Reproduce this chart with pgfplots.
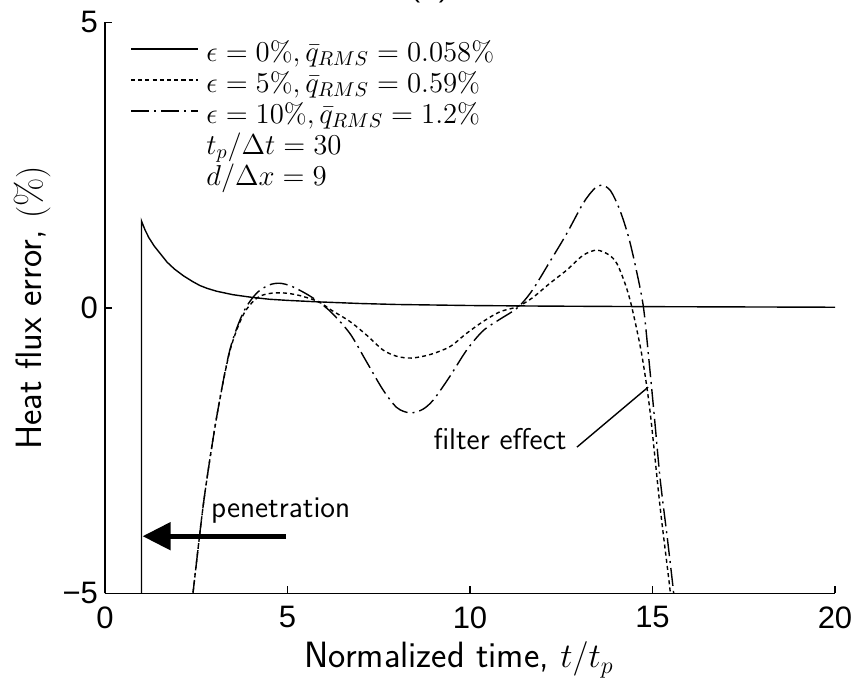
\documentclass[border=0pt]{standalone}
\usepackage{fontspec}
\usepackage{pgfplots}
\pgfplotsset{compat=1.18}
\usetikzlibrary{arrows.meta}
\newfontfamily\tickfont{Liberation Sans}

\pgfplotstableread{
t v
1 -6
1 1.52
1.1 1.36
1.2 1.23
1.35 1.08
1.5 0.96
1.7 0.80
1.9 0.68
2.15 0.56
2.4 0.46
2.6 0.39
2.8 0.34
3.06 0.29
3.5 0.23
4 0.185
4.5 0.15
5 0.13
5.8 0.105
7 0.075
8 0.058
10 0.04
12 0.03
15 0.02
20 0.01
}\epszero

\pgfplotstableread{
t v
2.3 -5.6
2.41 -5.0
2.71 -3.37
3.06 -1.91
3.42 -0.76
3.79 -0.12
4.16 0.17
4.5 0.25
4.89 0.26
5.3 0.22
5.84 0.11
6.2 -0.04
6.71 -0.24
7.17 -0.48
7.62 -0.74
8.0 -0.85
8.4 -0.88
8.9 -0.82
9.45 -0.68
9.9 -0.45
10.36 -0.24
10.82 -0.07
11.3 0.02
11.7 0.17
12.19 0.43
12.65 0.66
13.1 0.92
13.47 1.01
13.8 0.93
14.02 0.78
14.25 0.42
14.43 0.02
14.7 -0.8
14.93 -1.8
15.21 -3.5
15.48 -4.94
15.55 -5.5
}\epsfive

\pgfplotstableread{
t v
2.3 -5.6
2.41 -5.0
2.71 -3.37
3.06 -1.91
3.42 -0.74
3.79 -0.08
4.16 0.26
4.5 0.40
4.79 0.43
5.1 0.38
5.5 0.25
5.84 0.11
6.2 -0.08
6.71 -0.45
7.17 -0.95
7.62 -1.44
8.0 -1.75
8.36 -1.84
8.7 -1.78
9.0 -1.61
9.45 -1.2
9.91 -0.74
10.36 -0.4
10.82 -0.2
11.3 0.0
11.7 0.3
12.19 0.81
12.65 1.30
13.1 1.83
13.4 2.08
13.61 2.15
13.85 2.05
14.1 1.72
14.34 1.25
14.55 0.68
14.75 0.02
14.9 -0.9
15.05 -1.9
15.21 -3.0
15.4 -4.0
15.57 -4.94
15.65 -5.5
}\epsten

\begin{document}
\begin{tikzpicture}
\begin{axis}[name=ax,
  width=365pt, height=285.5pt, scale only axis,
  xmin=0, xmax=20, ymin=-5, ymax=5,
  axis x line=bottom, axis y line=left,
  axis line style={-, line width=0.7pt},
  tick align=inside, major tick length=3.5pt,
  tick style={line width=0.7pt, black},
  xtick={0,5,10,15,20}, xticklabels={0,5,10,15,20},
  ytick={-5,0,5}, yticklabels={−5,0,5},
  ticklabel style={font=\tickfont\fontsize{15.5}{17}\selectfont},
  xticklabel style={yshift=-3pt},
  xlabel={Normalized time, $t/t_p$},
  ylabel={Heat flux error, $(\%)$},
  label style={font=\sffamily\fontsize{18.3}{22}\selectfont},
  xlabel style={at={(axis description cs:0.485,-0.1305)}, anchor=base},
  ylabel style={at={(axis description cs:-0.0863,0.5)}, anchor=base},
  legend style={at={(0,1)}, anchor=north west, xshift=12.5pt, yshift=-8.85pt,
    draw=none, fill=none, inner sep=0pt, row sep=0pt, column sep=4pt,
    font=\fontsize{14}{15}\selectfont,
    nodes={inner sep=0pt, text height=10.5pt, text depth=5pt}},
  legend cell align=left,
  legend image code/.code={\draw[#1] (0pt,3.5pt) -- (33.3pt,3.5pt);},
  clip=true,
]
\addplot[black, line width=0.7pt] table[x=t,y=v] {\epszero};
\addlegendentry{$\epsilon=0\%, \bar{q}_{RMS}=0.058\%$}
\addplot[black, line width=0.7pt, smooth, dash pattern=on 2pt off 1.6pt] table[x=t,y=v] {\epsfive};
\addlegendentry{$\epsilon=5\%, \bar{q}_{RMS}=0.59\%$}
\addplot[black, line width=0.7pt, smooth, dash pattern=on 9pt off 2.5pt on 1pt off 2.5pt] table[x=t,y=v] {\epsten};
\addlegendentry{$\epsilon=10\%, \bar{q}_{RMS}=1.2\%$}
\addlegendimage{empty legend}
\addlegendentry{$t_p/\Delta t=30$}
\addlegendimage{empty legend}
\addlegendentry{$d/\Delta x=9$}

\draw[line width=2.5pt, -{Triangle[length=14pt,width=13.5pt]}] (axis cs:4.96,-4.0) -- (axis cs:1.03,-4.0);
\node[anchor=base west, inner sep=0pt, font=\sffamily\fontsize{15}{18}\selectfont] at (axis cs:2.90,-3.68) {penetration};
\node[anchor=base west, inner sep=0pt, font=\sffamily\fontsize{15}{18}\selectfont] at (axis cs:8.99,-2.49) {filter effect};
\draw[line width=0.7pt] (axis cs:12.93,-2.44) -- (axis cs:14.88,-1.39);
\end{axis}
\node[anchor=south, inner sep=0pt, font=\sffamily\fontsize{19}{22}\selectfont] at ([xshift=162.5pt, yshift=9.65pt]ax.north west) {(c)};
\pgfresetboundingbox
\useasboundingbox ([shift={(-52.5pt,-44.85pt)}]ax.south west) rectangle ([shift={(11pt,11.15pt)}]ax.north east);
\end{tikzpicture}
\end{document}
